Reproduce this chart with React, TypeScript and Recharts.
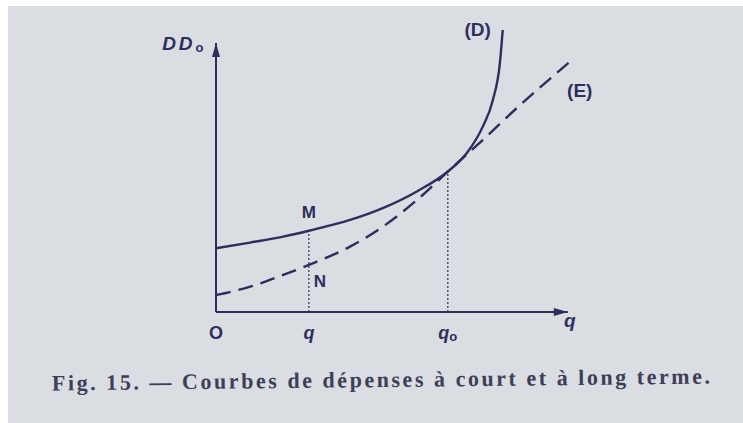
import React from 'react';
import { LineChart, Line, XAxis, YAxis, ReferenceLine, ReferenceDot } from 'recharts';

// short-run cost curve (D)
const D_Q = [0, 0.97, 1.91, 2.64, 3.81, 4.74, 5.71, 6.59, 7.13, 7.58, 7.87, 8.07, 8.15];
const D_COST = [2.37, 2.58, 2.8, 3.02, 3.42, 3.86, 4.48, 5.22, 5.91, 6.88, 7.88, 9.26, 10.48];

// long-run cost curve (E), dashed
const E_Q = [0, 0.97, 1.91, 2.64, 3.81, 4.74, 5.71, 6.59, 7.58, 8.55, 10.06];
const E_COST = [0.63, 0.94, 1.38, 1.75, 2.43, 3.17, 4.16, 5.22, 6.39, 7.58, 9.3];

const TICK_Q = [0, 2.64, 6.59];
const TICK_LABELS = ['O', 'q', 'q0'];

const M_POINT = { q: 2.64, cost: 3.02 };
const Q0_POINT = { q: 6.59, cost: 5.22 };
const AXIS_END = 10;

const CAPTION = 'Fig. 15. — Courbes de dépenses à court et à long terme.';

const dData = D_Q.map((q, i) => ({ q, cost: D_COST[i] }));
const eData = E_Q.map((q, i) => ({ q, cost: E_COST[i] }));

const INK = '#2c2f5c';
const SANS = '"Liberation Sans", "DejaVu Sans", sans-serif';

const textLabel = (txt: React.ReactNode, opts: any = {}) => (p: any) => (
  <text
    x={p.cx}
    y={p.cy}
    textAnchor="middle"
    dominantBaseline="central"
    fill={INK}
    fontFamily={SANS}
    fontWeight="bold"
    fontSize={opts.size || 18}
    fontStyle={opts.italic ? 'italic' : 'normal'}
    letterSpacing={opts.spacing || 0}
  >
    {txt}
  </text>
);

const QTick = (props: any) => {
  const i = TICK_Q.indexOf(props.payload.value);
  const label = TICK_LABELS[i] || '';
  const italic = label !== 'O';
  return (
    <text
      x={props.x}
      y={props.y + 13}
      textAnchor="middle"
      dominantBaseline="central"
      fill={INK}
      fontFamily={SANS}
      fontWeight="bold"
      fontSize={18}
      fontStyle={italic ? 'italic' : 'normal'}
    >
      {label.charAt(0)}
      {label.length > 1 && (
        <tspan fontSize={13} dy={3} fontStyle="normal">
          o
        </tspan>
      )}
    </text>
  );
};

const upArrow = (p: any) => (
  <polygon points={`${p.cx},${p.cy} ${p.cx - 4},${p.cy + 14} ${p.cx + 4},${p.cy + 14}`} fill={INK} />
);
const rightArrow = (p: any) => (
  <polygon points={`${p.cx},${p.cy} ${p.cx - 14},${p.cy - 4} ${p.cx - 14},${p.cy + 4}`} fill={INK} />
);

const App = () => {
  return (
    <div style={{ position: 'absolute', left: 0, top: 0, width: 743, height: 423, background: '#ffffff' }}>
      <div style={{ position: 'absolute', left: 8, top: 6, width: 735, height: 417, background: '#dadde2' }} />
      <div style={{ position: 'absolute', left: 0, top: 0 }}>
        <LineChart width={743} height={423} margin={{ top: 16, right: 140, bottom: 81, left: 216 }}>
          <XAxis
            type="number"
            dataKey="q"
            domain={[0, 11]}
            ticks={TICK_Q}
            axisLine={false}
            tickLine={false}
            tick={<QTick />}
            height={30}
            allowDuplicatedCategory={false}
          />
          <YAxis type="number" dataKey="cost" domain={[0, 11]} hide />
          {/* axes */}
          <ReferenceLine segment={[{ x: 0, y: 0 }, { x: 0, y: AXIS_END }]} stroke={INK} strokeWidth={2} ifOverflow="visible" />
          <ReferenceLine segment={[{ x: 0, y: 0 }, { x: AXIS_END, y: 0 }]} stroke={INK} strokeWidth={2} ifOverflow="visible" />
          <ReferenceDot x={0} y={AXIS_END} shape={upArrow} ifOverflow="visible" />
          <ReferenceDot x={AXIS_END} y={0} shape={rightArrow} ifOverflow="visible" />
          {/* dotted drop lines */}
          <ReferenceLine
            segment={[{ x: M_POINT.q, y: 0 }, { x: M_POINT.q, y: M_POINT.cost }]}
            stroke={INK}
            strokeWidth={1.2}
            strokeDasharray="2 2"
          />
          <ReferenceLine
            segment={[{ x: Q0_POINT.q, y: 0 }, { x: Q0_POINT.q, y: Q0_POINT.cost }]}
            stroke={INK}
            strokeWidth={1.2}
            strokeDasharray="2 2"
          />
          <Line
            data={dData}
            dataKey="cost"
            type="monotone"
            stroke={INK}
            strokeWidth={2.4}
            dot={false}
            activeDot={false}
            isAnimationActive={false}
          />
          <Line
            data={eData}
            dataKey="cost"
            type="monotone"
            stroke={INK}
            strokeWidth={2.4}
            strokeDasharray="15 8"
            dot={false}
            activeDot={false}
            isAnimationActive={false}
          />
          {/* labels */}
          <ReferenceDot x={2.64} y={3.68} shape={textLabel('M', { size: 17 })} ifOverflow="visible" />
          <ReferenceDot x={2.95} y={1.12} shape={textLabel('N', { size: 17 })} ifOverflow="visible" />
          <ReferenceDot x={7.44} y={10.48} shape={textLabel('(D)', { size: 19 })} ifOverflow="visible" />
          <ReferenceDot x={10.34} y={8.22} shape={textLabel('(E)', { size: 19 })} ifOverflow="visible" />
          <ReferenceDot x={10.06} y={-0.3} shape={textLabel('q', { size: 19, italic: true })} ifOverflow="visible" />
          <ReferenceDot
            x={-0.9}
            y={9.96}
            shape={textLabel(
              <>
                DD<tspan fontSize={13} dy={3} fontStyle="normal">o</tspan>
              </>,
              { size: 19, italic: true, spacing: 3 }
            )}
            ifOverflow="visible"
          />
        </LineChart>
      </div>
      <svg width={743} height={423} style={{ position: 'absolute', left: 0, top: 0, pointerEvents: 'none' }}>
        <text
          x={52}
          y={387}
          textLength={658}
          lengthAdjust="spacing"
          transform="rotate(-0.6 380 382)"
          fill="#3d3f58"
          fontFamily='"Liberation Serif", "DejaVu Serif", serif'
          fontWeight="bold"
          fontSize={22}
        >
          {CAPTION}
        </text>
      </svg>
    </div>
  );
};

export default App;
